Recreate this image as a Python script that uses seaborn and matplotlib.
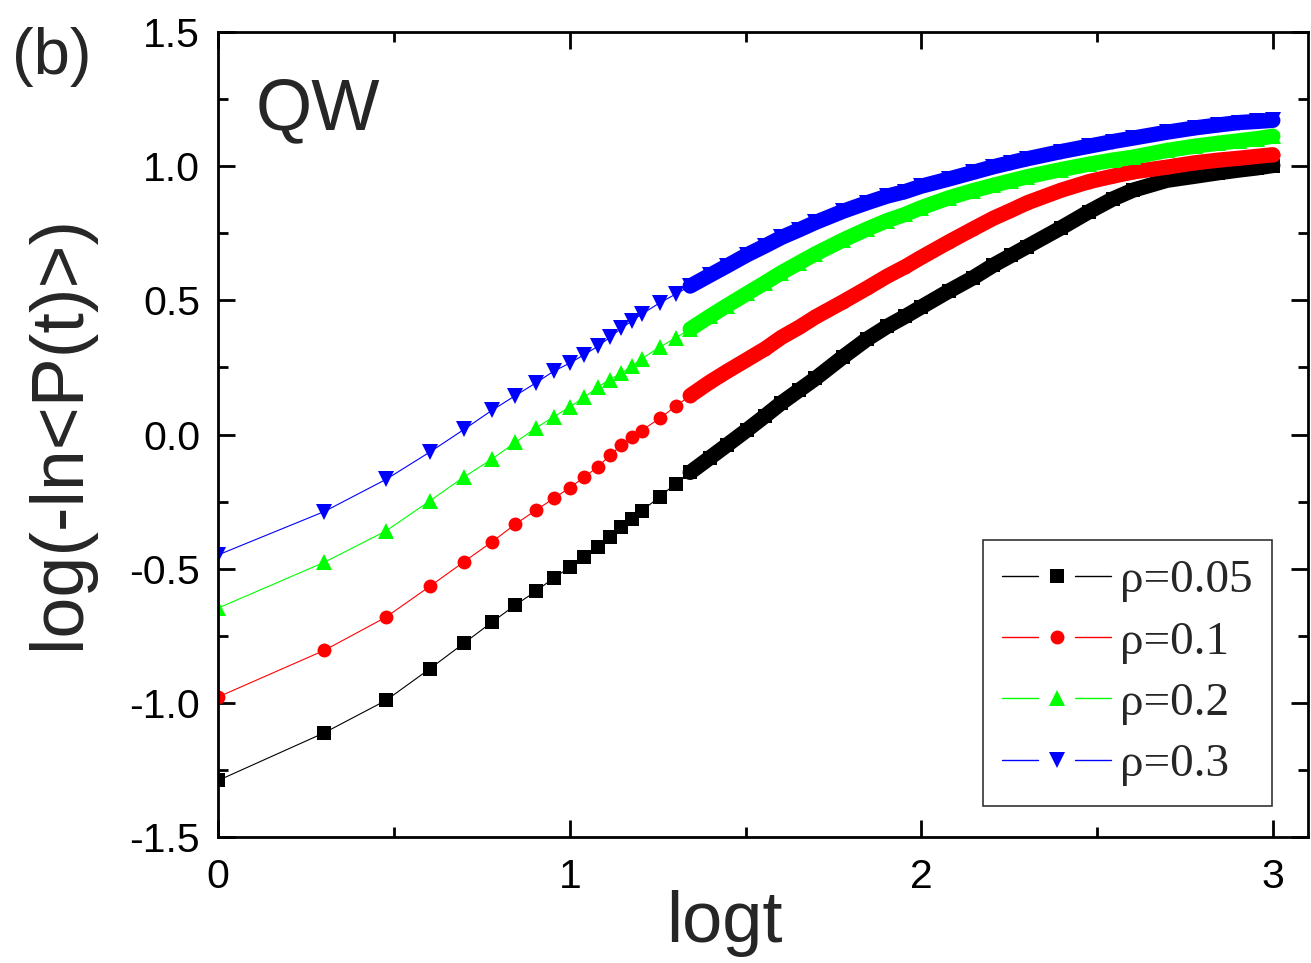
import numpy as np
import matplotlib
matplotlib.use("Agg")
import matplotlib.pyplot as plt
import seaborn as sns
from matplotlib.lines import Line2D
from matplotlib.legend_handler import HandlerBase
from matplotlib.ticker import MultipleLocator

# ---------------- data ----------------
t_values = [1, 2, 3, 4, 5, 6, 7, 8, 9, 10, 11, 12,
            13, 14, 15, 16, 18, 20, 22, 25, 28, 32, 36, 40, 45, 50,
            60, 70, 80, 90, 100, 120, 140, 160, 180, 200,
            250, 300, 350, 400, 500, 600, 700, 800, 900, 1000]

rho_005 = [-1.288, -1.111, -0.990, -0.872, -0.777, -0.699, -0.635, -0.584, -0.534, -0.495, -0.455, -0.418,
           -0.380, -0.345, -0.313, -0.285, -0.232, -0.183, -0.141, -0.087, -0.039, 0.018, 0.070, 0.118, 0.166, 0.209,
           0.290, 0.355, 0.403, 0.440, 0.475, 0.535, 0.583, 0.630, 0.667, 0.700,
           0.770, 0.830, 0.877, 0.910, 0.947, 0.962, 0.975, 0.985, 0.993, 1.002]

rho_01 = [-0.977, -0.804, -0.680, -0.565, -0.474, -0.400, -0.334, -0.282, -0.238, -0.198, -0.158, -0.121,
          -0.078, -0.040, -0.010, 0.015, 0.060, 0.105, 0.145, 0.195, 0.235, 0.280, 0.320, 0.362, 0.400, 0.438,
          0.495, 0.545, 0.590, 0.625, 0.660, 0.718, 0.765, 0.805, 0.835, 0.863,
          0.910, 0.942, 0.962, 0.978, 0.996, 1.012, 1.022, 1.029, 1.036, 1.042]

rho_02 = [-0.646, -0.476, -0.359, -0.247, -0.158, -0.092, -0.029, 0.024, 0.066, 0.103, 0.139, 0.176,
          0.205, 0.228, 0.255, 0.282, 0.325, 0.360, 0.393, 0.440, 0.480, 0.526, 0.566, 0.603, 0.640, 0.673,
          0.725, 0.765, 0.797, 0.820, 0.845, 0.882, 0.908, 0.928, 0.945, 0.960,
          0.987, 1.007, 1.022, 1.033, 1.058, 1.074, 1.085, 1.094, 1.102, 1.111]

rho_03 = [-0.448, -0.287, -0.167, -0.065, 0.019, 0.090, 0.145, 0.192, 0.236, 0.266, 0.298, 0.328,
          0.362, 0.395, 0.423, 0.448, 0.490, 0.523, 0.553, 0.593, 0.628, 0.670, 0.703, 0.734, 0.763, 0.790,
          0.832, 0.863, 0.888, 0.905, 0.925, 0.952, 0.976, 0.997, 1.013, 1.027,
          1.054, 1.074, 1.091, 1.104, 1.126, 1.142, 1.153, 1.162, 1.166, 1.170]

labels = ["\u03c1=0.05", "\u03c1=0.1", "\u03c1=0.2", "\u03c1=0.3"]
x_ticks = [0, 1, 2, 3]
y_ticks = [-1.5, -1.0, -0.5, 0.0, 0.5, 1.0, 1.5]

# ---------------- style ----------------
sns.set_theme(style="ticks")
plt.rcParams["font.family"] = ["Liberation Sans", "DejaVu Sans"]
plt.rcParams["axes.unicode_minus"] = False

colors = ["#000000", "#ff0000", "#00ff00", "#0000ff"]
markers = ["s", "o", "^", "v"]
msizes = [9.5, 10.0, 11.0, 11.0]
series = [rho_005, rho_01, rho_02, rho_03]

fig = plt.figure(figsize=(13.11, 9.63), dpi=100)
ax = fig.add_axes([0.1665, 0.1305, 0.9977 - 0.1665, 0.967 - 0.1305])

logt = np.log10(np.array(t_values, dtype=float))
band_start = t_values.index(22)

for vals, c, m, ms in zip(series, colors, markers, msizes):
    vals = np.asarray(vals)
    # dense region: overlapping markers appear as a solid band
    sns.lineplot(x=logt[band_start:], y=vals[band_start:], color=c, lw=11.0,
                 ax=ax, legend=False, estimator=None, sort=False,
                 solid_capstyle="round", solid_joinstyle="round")
    sns.lineplot(x=logt, y=vals, color=c, lw=0.8, marker=m, markersize=ms,
                 markeredgewidth=0, ax=ax, legend=False, estimator=None, sort=False)

ax.set_xlim(0, 3.1)
ax.set_ylim(-1.5, 1.5)
ax.set_xticks(x_ticks)
ax.set_xticklabels([str(v) for v in x_ticks])
ax.set_yticks(y_ticks)
ax.set_yticklabels([f"{v:.1f}" for v in y_ticks])
ax.xaxis.set_minor_locator(MultipleLocator(0.5))
ax.yaxis.set_minor_locator(MultipleLocator(0.25))

ax.tick_params(which="both", direction="in", top=True, right=True, width=2.0, colors="black")
ax.tick_params(which="major", length=12.5)
ax.tick_params(which="minor", length=7)
ax.tick_params(axis="y", which="major", labelsize=29.5, pad=13)
ax.tick_params(axis="x", which="major", labelsize=29.5, pad=15)
for sp in ax.spines.values():
    sp.set_visible(True)
    sp.set_linewidth(2.0)
    sp.set_color("black")

ax.set_xlabel("logt", fontsize=52)
ax.set_ylabel("log(-ln<P(t)>)", fontsize=53)
ax.xaxis.set_label_coords(0.464, -0.065)
ax.yaxis.set_label_coords(-0.114, 0.503)

ax.text(0.034, 0.879, "QW", transform=ax.transAxes, fontsize=52, va="baseline", ha="left")
fig.text(0.009, 0.972, "(b)", fontsize=47, va="top", ha="left")


class GapLineHandler(HandlerBase):
    def create_artists(self, legend, orig_handle, xdescent, ydescent, width, height, fontsize, trans):
        y = height / 2.0 - ydescent
        x0 = -xdescent
        x1 = width - xdescent
        cx = (x0 + x1) / 2.0
        gap = 0.17 * width
        c = orig_handle.get_color()
        l1 = Line2D([x0, cx - gap], [y, y], color=c, lw=1.0)
        l2 = Line2D([cx + gap, x1], [y, y], color=c, lw=1.0)
        mk = Line2D([cx], [y], color=c, marker=orig_handle.get_marker(), ls="none",
                    markersize=orig_handle.get_markersize(), markeredgewidth=0)
        arts = [l1, l2, mk]
        for a in arts:
            a.set_transform(trans)
        return arts


proxies = [Line2D([], [], color=c, marker=m, markersize=ms) for c, m, ms in zip(colors, markers, msizes)]
leg = ax.legend(proxies, labels, handler_map={Line2D: GapLineHandler()},
                loc="upper left", bbox_to_anchor=(0.7017, 0.369), borderaxespad=0,
                prop={"family": "Liberation Serif", "size": 34},
                handlelength=2.3, handletextpad=0.2, labelspacing=0.385,
                borderpad=0.41, frameon=True, fancybox=False, shadow=False)
leg.get_frame().set_edgecolor("#333333")
leg.get_frame().set_linewidth(1.2)
leg.get_frame().set_facecolor("white")
leg.get_frame().set_alpha(1.0)

fig.savefig("out.png", dpi=100, facecolor="white")
